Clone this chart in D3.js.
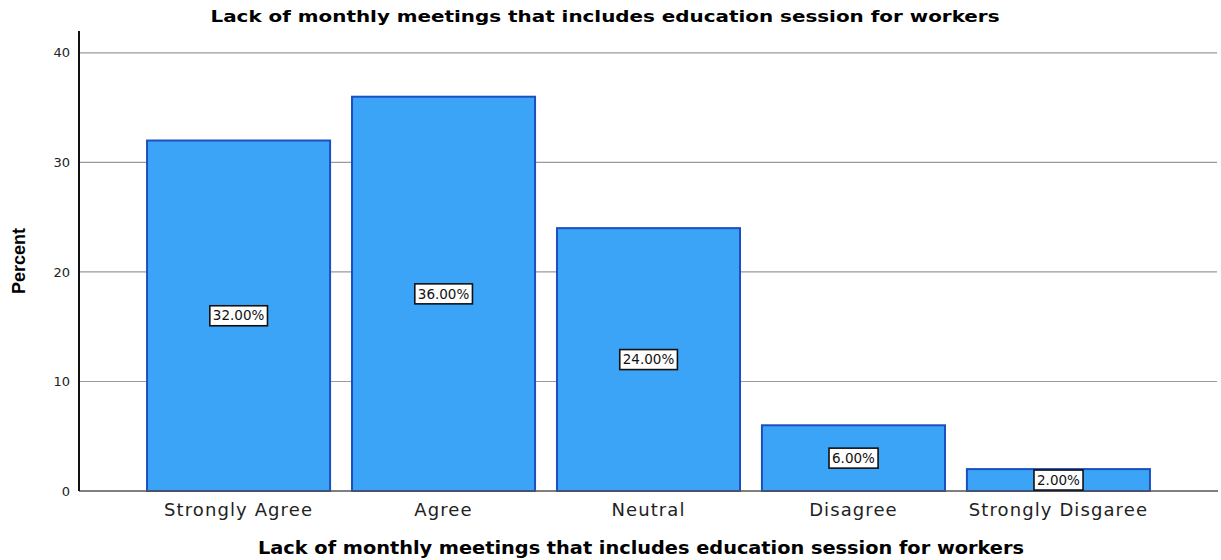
<!DOCTYPE html>
<html><head><meta charset="utf-8">
<script src="https://cdn.jsdelivr.net/npm/d3@7"></script>
<style>body{margin:0;background:#fff}svg{display:block}</style>
</head><body>
<svg id="c" width="1221" height="560"></svg>
<script>
const categories = ["Strongly Agree","Agree","Neutral","Disagree","Strongly Disgaree"];
const percents = [32, 36, 24, 6, 2];
const yTicks = [0, 10, 20, 30, 40];
const labels = ["32.00%","36.00%","24.00%","6.00%","2.00%"];
const title = "Lack of monthly meetings that includes education session for workers";

const svg = d3.select("#c");
const x = d3.scaleBand().domain(categories).range([79, 1218]).paddingInner(0.107).paddingOuter(0.332);
const y = d3.scaleLinear().domain([0, 42]).range([491, 31]);

// gridlines
svg.append("g").selectAll("line").data(yTicks.filter(d=>d>0)).join("line")
  .attr("x1", 79).attr("x2", 1217).attr("y1", d=>y(d)).attr("y2", d=>y(d))
  .attr("stroke", "#9a9a9a").attr("stroke-width", 1.2);

// bars
svg.append("g").selectAll("rect").data(categories).join("rect")
  .attr("x", d=>x(d)).attr("width", x.bandwidth())
  .attr("y", (d,i)=>y(percents[i])).attr("height", (d,i)=>y(0)-y(percents[i]))
  .attr("fill", "#3ba4f6").attr("stroke", "#1c4fc0").attr("stroke-width", 2);

// x axis line
svg.append("line").attr("x1", 79).attr("x2", 1218).attr("y1", y(0)).attr("y2", y(0))
  .attr("stroke", "#555").attr("stroke-width", 1.5);
// y axis line
svg.append("line").attr("x1", 79).attr("x2", 79).attr("y1", y(42)).attr("y2", y(0))
  .attr("stroke", "#111").attr("stroke-width", 2);

// y tick labels
svg.append("g").selectAll("text").data(yTicks).join("text")
  .attr("x", 70).attr("y", d=>y(d)).attr("dy", "0.35em").attr("text-anchor", "end")
  .attr("font-family", "DejaVu Sans, sans-serif").attr("font-size", 13).attr("fill", "#222")
  .text(d=>d);

// x category labels
svg.append("g").selectAll("text").data(categories).join("text")
  .attr("x", d=>x(d)+x.bandwidth()/2).attr("y", 516).attr("text-anchor", "middle")
  .attr("font-family", "DejaVu Sans, sans-serif").attr("font-size", 18).attr("letter-spacing", 1.1).attr("fill", "#222")
  .text(d=>d);

// value labels
const lg = svg.append("g").selectAll("g").data(categories).join("g")
  .attr("transform", (d,i)=>`translate(${x(d)+x.bandwidth()/2},${y(percents[i]/2)})`);
lg.append("text").attr("text-anchor", "middle").attr("dy", "0.35em")
  .attr("font-family", "DejaVu Sans, sans-serif").attr("font-size", 13.5).attr("fill", "#111")
  .text((d,i)=>labels[i]);
lg.each(function(){
  const g = d3.select(this); const b = g.select("text").node().getBBox();
  g.insert("rect","text").attr("x", b.x-3).attr("y", -10).attr("width", b.width+6).attr("height", 20)
   .attr("fill", "#fff").attr("stroke", "#111").attr("stroke-width", 1.6);
});

// titles
svg.append("text").attr("x", 605).attr("y", 22).attr("text-anchor", "middle")
  .attr("font-family", "DejaVu Sans, sans-serif").attr("font-weight", "bold").attr("font-size", 16.5)
  .attr("textLength", 789).attr("lengthAdjust", "spacingAndGlyphs")
  .text(title);
svg.append("text").attr("x", 641).attr("y", 554).attr("text-anchor", "middle")
  .attr("font-family", "DejaVu Sans, sans-serif").attr("font-weight", "bold").attr("font-size", 17)
  .attr("textLength", 766).attr("lengthAdjust", "spacingAndGlyphs")
  .text(title);
svg.append("text").attr("transform", "translate(25,261) rotate(-90)").attr("text-anchor", "middle")
  .attr("font-family", "Liberation Sans Narrow, Liberation Sans, Arial, sans-serif").attr("font-weight", "bold").attr("font-size", 18)
  .text("Percent");
</script>
</body></html>
